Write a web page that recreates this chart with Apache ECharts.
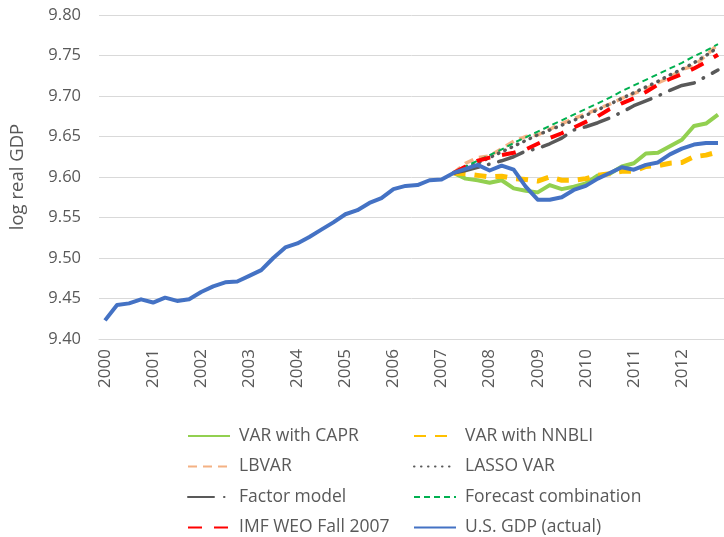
<!DOCTYPE html>
<html>
<head>
<meta charset="utf-8">
<script src="https://cdn.jsdelivr.net/npm/echarts@6/dist/echarts.min.js"></script>
<style>
  html, body { margin: 0; padding: 0; background: #fff; }
  #chart { width: 724px; height: 537px; }
</style>
</head>
<body>
<div id="chart"></div>
<script>
var years = ['2000','2001','2002','2003','2004','2005','2006','2007','2008','2009','2010','2011','2012'];
var quarters = ['Q1','Q2','Q3','Q4'];

// actual log real GDP, 2000Q1 - 2012Q4
var gdpActual = [9.423,9.442,9.444,9.449,9.445,9.451,9.447,9.449,9.458,9.465,9.470,9.471,
                 9.478,9.485,9.500,9.513,9.518,9.526,9.535,9.544,9.554,9.559,9.568,9.574,
                 9.585,9.589,9.590,9.596,9.597,9.605,9.610,9.615,9.608,9.614,9.609,9.588,
                 9.572,9.572,9.575,9.584,9.589,9.598,9.605,9.612,9.609,9.615,9.618,9.628,
                 9.635,9.640,9.642,9.642];

// forecasts, from 2007Q2 onwards
var forecastStart = 29;
var varCapr   = [9.605,9.598,9.596,9.593,9.596,9.586,9.583,9.581,9.590,9.585,9.588,9.592,9.602,9.604,9.613,9.617,9.629,9.630,9.638,9.646,9.663,9.666,9.677];
var varNnbli  = [9.605,9.604,9.602,9.600,9.601,9.598,9.597,9.595,9.600,9.596,9.596,9.598,9.602,9.604,9.607,9.607,9.613,9.614,9.617,9.618,9.625,9.627,9.631];
var lbvar     = [9.605,9.617,9.624,9.626,9.635,9.644,9.650,9.652,9.659,9.666,9.672,9.678,9.684,9.690,9.697,9.703,9.709,9.716,9.723,9.733,9.737,9.750,9.764];
var lassoVar  = [9.605,9.612,9.617,9.624,9.631,9.638,9.645,9.652,9.658,9.664,9.670,9.676,9.683,9.690,9.697,9.704,9.711,9.718,9.726,9.733,9.741,9.750,9.760];
var factorMod = [9.605,9.608,9.612,9.616,9.620,9.625,9.632,9.635,9.641,9.648,9.658,9.662,9.667,9.673,9.680,9.688,9.694,9.700,9.707,9.713,9.716,9.724,9.732];
var fcComb    = [9.605,9.613,9.620,9.627,9.634,9.642,9.649,9.656,9.663,9.670,9.677,9.684,9.691,9.698,9.706,9.713,9.720,9.727,9.734,9.741,9.749,9.756,9.764];
var imfWeo    = [9.605,9.613,9.620,9.624,9.627,9.630,9.634,9.641,9.648,9.654,9.661,9.668,9.675,9.684,9.691,9.697,9.705,9.714,9.721,9.727,9.734,9.742,9.751];

var categories = [];
years.forEach(function (y) {
  quarters.forEach(function (q) { categories.push(y + q); });
});

function pad(arr) {
  var out = [];
  for (var i = 0; i < forecastStart; i++) out.push(null);
  return out.concat(arr);
}

var font = '"Open Sans", "Noto Sans", sans-serif';
var grey = '#595959';

function line(name, data, color, width, type, cap) {
  return {
    name: name,
    type: 'line',
    data: data,
    symbol: 'none',
    smooth: false,
    connectNulls: false,
    animation: false,
    lineStyle: { color: color, width: width, type: type, cap: cap || 'butt', join: 'round' },
    itemStyle: { color: color }
  };
}

var chart = echarts.init(document.getElementById('chart'));
var legendCommon = {
  orient: 'vertical',
  padding: 0,
  itemWidth: 42,
  itemHeight: 14,
  itemGap: 12.5,
  textStyle: { color: grey, fontSize: 17.5, fontFamily: font, lineHeight: 18, padding: [0, 0, 0, 4] },
  itemStyle: { opacity: 0 }
};

chart.setOption({
  backgroundColor: '#fff',
  grid: { left: 99, right: -8, top: 15, bottom: 198, containLabel: false },
  legend: [
    Object.assign({ left: 187, top: 427, data: ['VAR with CAPR', 'LBVAR', 'Factor model', 'IMF WEO Fall 2007'] }, legendCommon),
    Object.assign({ left: 413, top: 427, data: ['VAR with NNBLI', 'LASSO VAR', 'Forecast combination', 'U.S. GDP (actual)'] }, legendCommon)
  ],
  xAxis: {
    type: 'category',
    data: categories,
    boundaryGap: true,
    axisLine: { lineStyle: { color: '#D9D9D9', width: 1 } },
    axisTick: { show: false },
    axisLabel: {
      interval: 3,
      rotate: 90,
      margin: 10,
      color: grey,
      fontSize: 17,
      fontFamily: font,
      formatter: function (v) { return v.slice(0, 4); }
    },
    splitLine: { show: false }
  },
  yAxis: {
    type: 'value',
    min: 9.4,
    max: 9.8,
    interval: 0.05,
    name: 'log real GDP',
    nameLocation: 'middle',
    nameRotate: 90,
    nameGap: 72,
    nameTextStyle: { color: grey, fontSize: 18.5, fontFamily: font },
    axisLine: { show: false },
    axisTick: { show: false },
    axisLabel: {
      margin: 18,
      color: grey,
      fontSize: 16.5,
      fontFamily: font,
      formatter: function (v) { return v.toFixed(2); }
    },
    splitLine: { lineStyle: { color: '#D9D9D9', width: 1 } }
  },
  series: [
    line('VAR with CAPR', pad(varCapr), '#92D050', 4, 'solid'),
    line('VAR with NNBLI', pad(varNnbli), '#FFC000', 5, [12, 9]),
    line('LBVAR', pad(lbvar), '#F4B183', 3.5, [9, 6]),
    line('LASSO VAR', pad(lassoVar), grey, 3.5, [0.5, 6.5], 'round'),
    line('Factor model', pad(factorMod), grey, 3.5, [26, 10, 0.5, 10], 'round'),
    line('Forecast combination', pad(fcComb), '#00B050', 2, [6, 4]),
    line('IMF WEO Fall 2007', pad(imfWeo), '#FF0000', 4, [14, 12]),
    line('U.S. GDP (actual)', gdpActual, '#4472C4', 4, 'solid')
  ]
});
</script>
</body>
</html>
